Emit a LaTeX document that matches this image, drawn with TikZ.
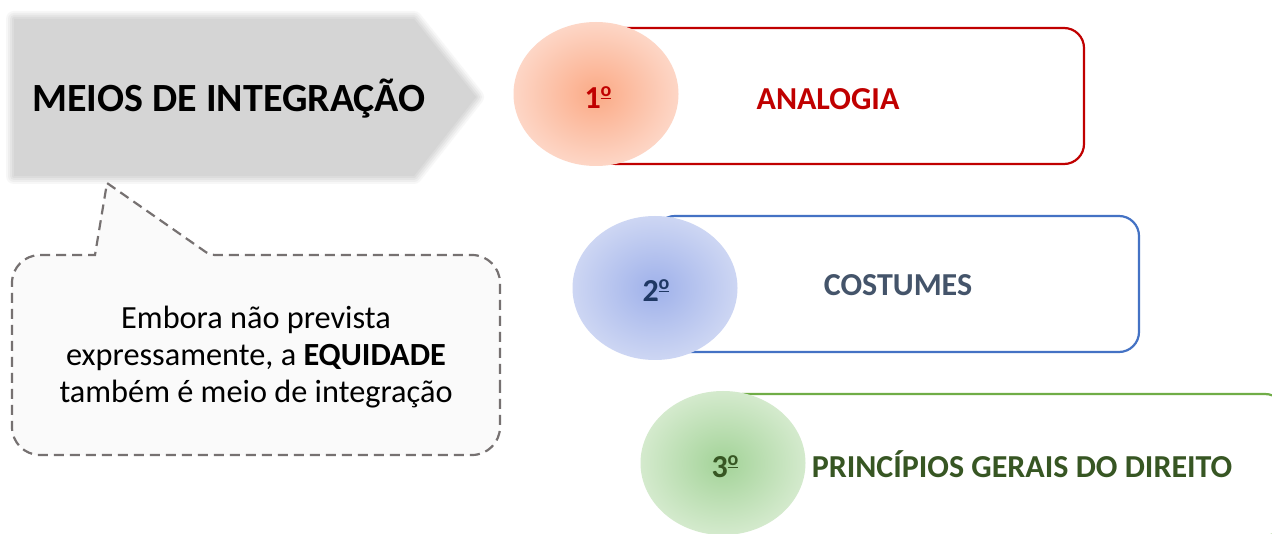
\documentclass[tikz,border=0pt]{standalone}
\usepackage{fontspec}
\setmainfont{Carlito}
\usetikzlibrary{shapes.geometric}
\definecolor{cred}{HTML}{C00000}
\definecolor{cblue}{HTML}{4472C4}
\definecolor{cgreen}{HTML}{70AD47}
\definecolor{tblue}{HTML}{1F3864}
\definecolor{tslate}{HTML}{44546A}
\definecolor{tgreen}{HTML}{375623}
\definecolor{arrowgray}{HTML}{D5D5D5}
\definecolor{dashgray}{HTML}{767171}
\definecolor{calloutfill}{HTML}{FAFAFA}
\definecolor{in1}{HTML}{FBAA86}\definecolor{out1}{HTML}{FDD6C6}
\definecolor{in2}{HTML}{9FB1EA}\definecolor{out2}{HTML}{CDD6F3}
\definecolor{in3}{HTML}{A3D398}\definecolor{out3}{HTML}{D4EACD}
\newcommand{\ordmark}{\raisebox{.38em}{\fontsize{20}{20}\selectfont\underline{o}}}
\tikzset{
  itembox/.style={draw, line width=2.2pt, rounded corners=20pt, fill=white, inner sep=0pt},
  itemdisc/.style={ellipse, minimum width=165pt, minimum height=144pt, inner sep=0pt},
  lbl/.style={font=\bfseries\fontsize{32}{36}\selectfont, anchor=base, inner sep=0pt},
}
\begin{document}
\begin{tikzpicture}[x=1pt,y=-1pt]
\useasboundingbox (0,0) rectangle (1272,534);
\clip (0,0) rectangle (1272,534);
\fill[white] (0,0) rectangle (1272,534);

% soft-edged arrow
\foreach \w/\o in {16/0.18,12/0.25,8/0.35,4/0.5}{
  \draw[arrowgray, line width=\w pt, opacity=\o, line join=round]
    (14,19) -- (414,19) -- (476,97) -- (414,176) -- (14,176) -- cycle;
}
\path[fill=arrowgray] (14,19) -- (414,19) -- (476,97) -- (414,176) -- (14,176) -- cycle;
\node[font=\bfseries\fontsize{40}{48}\selectfont, anchor=base, inner sep=0pt] (title) at (229,112) {MEIOS DE INTEGRAÇÃO};

% callout
\draw[dashgray, dashed, dash pattern=on 10pt off 6pt, line width=2.2pt, fill=calloutfill]
  (500,355) [rounded corners=28pt] -- (500,455) -- (12,455) -- (12,255)
  [sharp corners] -- (95,255) -- (107,183) [rounded corners=5pt] -- (210,255)
  [rounded corners=28pt] -- (500,255) -- cycle;
\node[align=center, font=\fontsize{32.3}{37}\selectfont, inner sep=0pt] (note) at (256,357)
  {Embora não prevista\\expressamente, a \textbf{EQUIDADE}\\também é meio de integração};

% items
\node[itembox, draw=cred, minimum width=488pt, minimum height=136pt] (b1) at (840,96) {};
\node[itemdisc, inner color=in1, outer color=out1] (c1) at (596,94) {};
\node[lbl, text=cred] (n1) at (598,109) {1\ordmark};
\node[lbl, text=cred] (t1) at (828,110) {ANALOGIA};

\node[itembox, draw=cblue, minimum width=484pt, minimum height=136pt] (b2) at (897,284) {};
\node[itemdisc, inner color=in2, outer color=out2] (c2) at (655,288) {};
\node[lbl, text=tblue] (n2) at (656,302) {2\ordmark};
\node[lbl, text=tslate] (t2) at (898,296) {COSTUMES};

\node[itembox, draw=cgreen, minimum width=562pt, minimum height=142pt] (b3) at (1004,465) {};
\node[itemdisc, inner color=in3, outer color=out3] (c3) at (723,463) {};
\node[lbl, text=tgreen] (n3) at (725,478) {3\ordmark};
\node[lbl, text=tgreen] (t3) at (1022,477) {PRINCÍPIOS GERAIS DO DIREITO};
\end{tikzpicture}
\end{document}
